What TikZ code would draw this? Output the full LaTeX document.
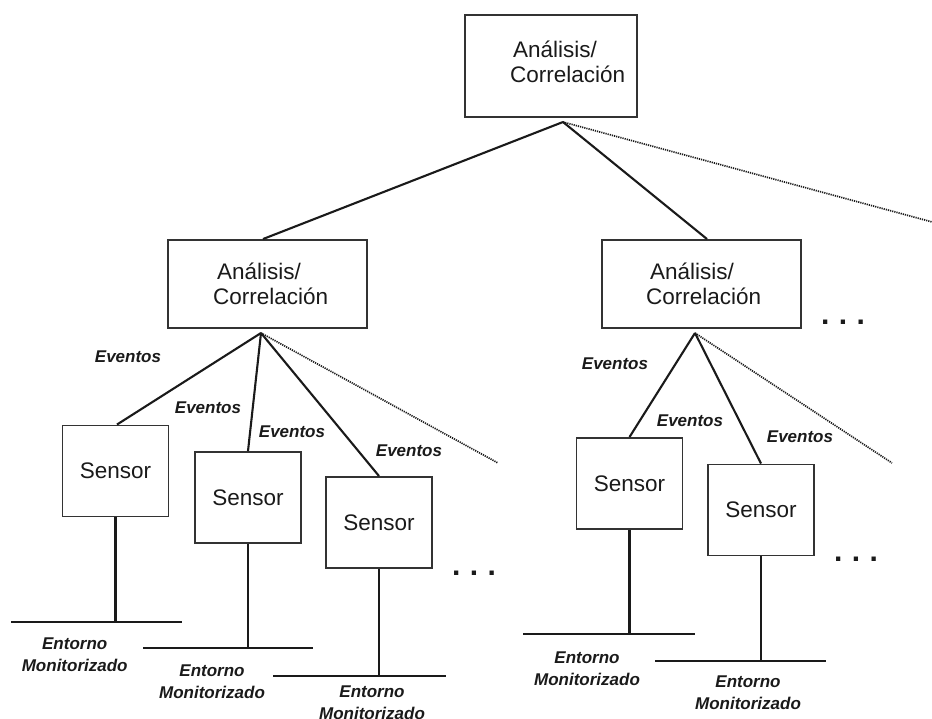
\documentclass[tikz,border=0pt]{standalone}
\usepackage{fontspec}
\setmainfont{Liberation Sans}
\definecolor{boxgray}{HTML}{333333}
\definecolor{ink}{HTML}{1A1A1A}
\begin{document}
\begin{tikzpicture}[x=1pt,y=-1pt,
  box/.style={draw=boxgray, line width=1.9pt, inner sep=0pt},
  sensorbox/.style={box, minimum width=106pt, minimum height=91pt,
    text=ink, font=\fontsize{22.5}{25}\selectfont},
  corrbox/.style={box, minimum width=199pt, minimum height=88pt},
  boxtext/.style={inner sep=0pt, align=left, anchor=west, text=ink,
    font=\fontsize{22.5}{25}\selectfont},
  lbl/.style={inner sep=0pt, align=center, text=ink,
    font=\fontsize{17}{22}\selectfont\bfseries\itshape},
  link/.style={draw=ink, line width=2.1pt},
  faint/.style={draw=ink, line width=1.7pt, dash pattern=on 1.2pt off 1pt},
  ground/.style={draw=ink, line width=2.4pt},
  more/.style={inner sep=0pt, anchor=base, text=ink,
    font=\fontsize{30}{30}\selectfont\bfseries}]
\useasboundingbox (0,0) rectangle (932,719);

% analysis / correlation boxes
\node[box, minimum width=172pt, minimum height=102pt] (top) at (551,66) {};
\node[boxtext] (topText) at (510,62) {\hspace{3pt}Análisis/\\Correlación};
\node[corrbox] (midL) at (267.5,284) {};
\node[boxtext] (midLText) at (213,283.5) {\hspace{4pt}Análisis/\\Correlación};
\node[corrbox] (midR) at (701.5,284) {};
\node[boxtext] (midRText) at (646,283.5) {\hspace{4pt}Análisis/\\Correlación};

% sensors
\node[sensorbox] (s1) at (115.5,471) {Sensor};
\node[sensorbox] (s2) at (248,497.5) {Sensor};
\node[sensorbox] (s3) at (379,522.5) {Sensor};
\node[sensorbox] (s4) at (629.5,483.5) {Sensor};
\node[sensorbox] (s5) at (761,510) {Sensor};

% branching points and open ends
\coordinate (topApex) at (563,122);
\coordinate (apexL) at (261,333);
\coordinate (apexR) at (695,333);
\coordinate (topFar) at (934,222.5);
\coordinate (farL) at (498,463);
\coordinate (farR) at (892,463);

% upper level links
\draw[link] (topApex) -- ([xshift=-4.5pt]midL.north);
\draw[link] (topApex) -- ([xshift=5.5pt]midR.north);
\draw[faint] (topApex) -- (topFar);

% left group links
\draw[link] (apexL) -- ([xshift=1.5pt]s1.north);
\draw[link] (apexL) -- (s2.north);
\draw[link] (apexL) -- (s3.north);
\draw[faint] (apexL) -- (farL);

% right group links
\draw[link] (apexR) -- (s4.north);
\draw[link] (apexR) -- (s5.north);
\draw[faint] (apexR) -- (farR);

% event labels
\node[lbl] (ev1) at (128,357) {Eventos};
\node[lbl] (ev2) at (208,408) {Eventos};
\node[lbl] (ev3) at (292,432) {Eventos};
\node[lbl] (ev4) at (409,451) {Eventos};
\node[lbl] (ev5) at (615,364) {Eventos};
\node[lbl] (ev6) at (690,421) {Eventos};
\node[lbl] (ev7) at (800,437) {Eventos};

% monitored environments
\coordinate (g1a) at (11,622);  \coordinate (g1b) at (182,622);
\coordinate (g2a) at (143,648); \coordinate (g2b) at (313,648);
\coordinate (g3a) at (273,676); \coordinate (g3b) at (446,676);
\coordinate (g4a) at (523,634); \coordinate (g4b) at (695,634);
\coordinate (g5a) at (655,661); \coordinate (g5b) at (826,661);
\foreach \i in {1,...,5} {
  \draw[ground] (g\i a) -- (g\i b);
  \draw[link] (s\i.south) -- (s\i.south |- g\i a);
}
\node[lbl] (env1) at (74.7,655) {Entorno\\Monitorizado};
\node[lbl] (env2) at (212,682) {Entorno\\Monitorizado};
\node[lbl] (env3) at (372,703) {Entorno\\Monitorizado};
\node[lbl] (env4) at (587,669) {Entorno\\Monitorizado};
\node[lbl] (env5) at (748,692.5) {Entorno\\Monitorizado};

% continuation marks
\node[more] (moreR) at (843,324.5) {.\hspace{9.5pt}.\hspace{9.5pt}.};
\node[more] (moreL) at (474,575.5) {.\hspace{9.5pt}.\hspace{9.5pt}.};
\node[more] (moreS) at (856,561.5) {.\hspace{9.5pt}.\hspace{9.5pt}.};
\end{tikzpicture}
\end{document}
